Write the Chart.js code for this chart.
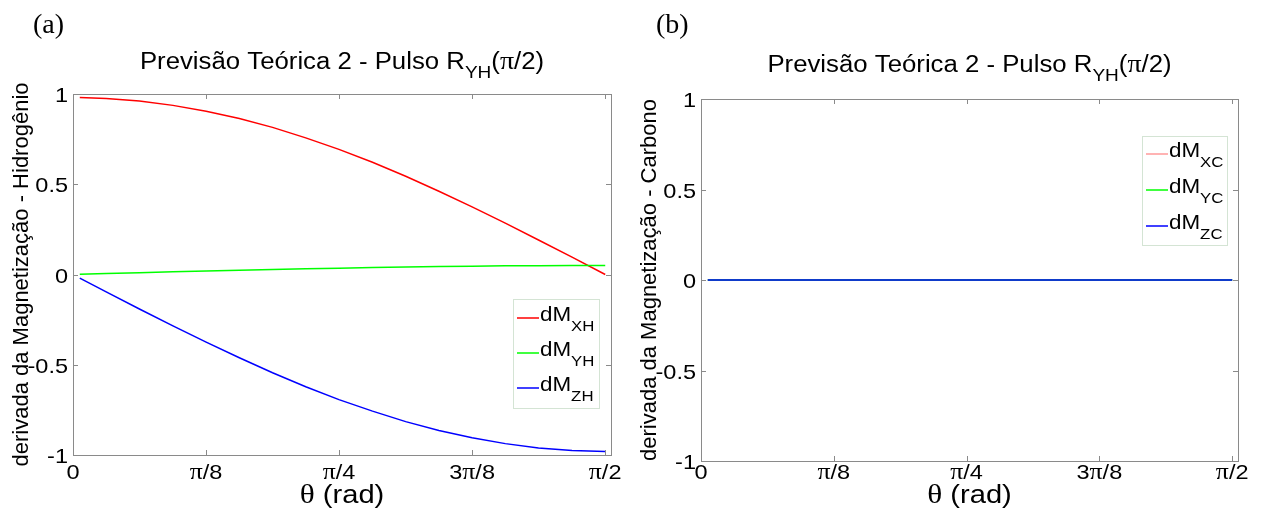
<!DOCTYPE html>
<html>
<head>
<meta charset="utf-8">
<script src="https://cdn.jsdelivr.net/npm/chart.js@4.4.0/dist/chart.umd.min.js"></script>
<style>
  body { margin: 0; background: #fff; width: 1272px; height: 516px; overflow: hidden; position: relative; }
  canvas { position: absolute; top: 0; }
  #chartA { left: 0; }
  #chartB { left: 636px; }
</style>
</head>
<body>
<canvas id="chartA" width="636" height="516"></canvas>
<canvas id="chartB" width="636" height="516"></canvas>
<script>
// theta (rad) sample points
var theta = [0.02, 0.098, 0.196, 0.295, 0.393, 0.491, 0.589, 0.687, 0.785, 0.884, 0.982, 1.080, 1.178, 1.276, 1.374, 1.473, 1.571];

// (a) hidrogenio
var dMxH = [0.98, 0.975, 0.961, 0.937, 0.905, 0.864, 0.815, 0.757, 0.693, 0.622, 0.544, 0.461, 0.375, 0.285, 0.191, 0.096, 0.0];
var dMyH = [0.001, 0.005, 0.010, 0.015, 0.019, 0.024, 0.028, 0.032, 0.035, 0.039, 0.042, 0.044, 0.046, 0.048, 0.049, 0.050, 0.050];
var dMzH = [-0.02, -0.096, -0.191, -0.285, -0.375, -0.461, -0.544, -0.622, -0.693, -0.757, -0.815, -0.864, -0.905, -0.937, -0.961, -0.975, -0.98];

// (b) carbono
var dMxC = [0, 0, 0, 0, 0, 0, 0, 0, 0, 0, 0, 0, 0, 0, 0, 0, 0];
var dMyC = [0, 0, 0, 0, 0, 0, 0, 0, 0, 0, 0, 0, 0, 0, 0, 0, 0];
var dMzC = [0, 0, 0, 0, 0, 0, 0, 0, 0, 0, 0, 0, 0, 0, 0, 0, 0];

var xTickVals = [0, Math.PI / 8, Math.PI / 4, 3 * Math.PI / 8, Math.PI / 2];
var xTickLabels = ['0', 'π/8', 'π/4', '3π/8', 'π/2'];
var yTickVals = [-1, -0.5, 0, 0.5, 1];
var yTickLabels = ['-1', '-0.5', '0', '0.5', '1'];

var SANS = '"Liberation Sans", Arial, sans-serif';
var SERIF = '"Liberation Serif", "Times New Roman", serif';
var STRETCH = 1.12;   // the original figure is a bit wider than tall
var axisColor = '#8a8a8a';

function pts(ys) {
    return theta.map(function(t, i) { return {x: t, y: ys[i]}; });
}

// draw a row of text pieces (for subscripts and the serif pi)
// parts: [text, size, dy, serif]
function richWidth(ctx, parts) {
    var w = 0;
    parts.forEach(function(p) {
        ctx.font = p[1] + 'px ' + (p[3] ? SERIF : SANS);
        w += ctx.measureText(p[0]).width;
    });
    return w * STRETCH;
}

function drawRich(ctx, parts, x, y, align) {
    var w = richWidth(ctx, parts);
    var x0 = x;
    if (align === 'center') x0 = x - w / 2;
    if (align === 'right') x0 = x - w;
    ctx.save();
    ctx.translate(x0, y);
    ctx.scale(STRETCH, 1);
    ctx.textAlign = 'left';
    ctx.textBaseline = 'alphabetic';
    ctx.fillStyle = '#000';
    var cx = 0;
    parts.forEach(function(p) {
        ctx.font = p[1] + 'px ' + (p[3] ? SERIF : SANS);
        ctx.fillText(p[0], cx, p[2]);
        cx += ctx.measureText(p[0]).width;
    });
    ctx.restore();
}

function piParts(label, size) {
    // split label so that pi uses the serif face
    var out = [];
    label.split(/(π)/).forEach(function(s) {
        if (s === '') return;
        out.push(s === 'π' ? [s, size + 2, 0, true] : [s, size, 0]);
    });
    return out;
}

var matlabAxes = {
    id: 'matlabAxes',
    afterDatasetsDraw: function(chart, args, o) {
        var ctx = chart.ctx;
        var a = chart.chartArea;
        var xs = chart.scales.x, ys = chart.scales.y;

        // box and inward ticks
        ctx.save();
        ctx.strokeStyle = axisColor;
        ctx.lineWidth = 1;
        ctx.strokeRect(Math.round(a.left) + 0.5, Math.round(a.top) + 0.5, Math.round(a.right - a.left), Math.round(a.bottom - a.top));
        ctx.beginPath();
        xTickVals.forEach(function(v) {
            var px = Math.round(xs.getPixelForValue(v)) + 0.5;
            ctx.moveTo(px, a.bottom); ctx.lineTo(px, a.bottom - 5);
            ctx.moveTo(px, a.top); ctx.lineTo(px, a.top + 5);
        });
        yTickVals.forEach(function(v) {
            var py = Math.round(ys.getPixelForValue(v)) + 0.5;
            ctx.moveTo(a.left, py); ctx.lineTo(a.left + 5, py);
            ctx.moveTo(a.right, py); ctx.lineTo(a.right - 5, py);
        });
        ctx.stroke();
        ctx.restore();

        // tick labels
        xTickVals.forEach(function(v, i) {
            drawRich(ctx, piParts(xTickLabels[i], 21), xs.getPixelForValue(v), o.xlabBase, 'center');
        });
        yTickVals.forEach(function(v, i) {
            drawRich(ctx, [[yTickLabels[i], 21, 0]], a.left - 5, ys.getPixelForValue(v) + 8, 'right');
        });

        // titles
        var mid = (a.left + a.right) / 2;
        drawRich(ctx, [['Previsão Teórica 2 - Pulso R', 23, 0], ['YH', 17, 9], ['(', 23, 0], ['π', 25, 0, true], ['/2)', 23, 0]], mid, o.titleY, 'center');
        drawRich(ctx, [['θ', 28, 0, true], [' (rad)', 26, 0]], mid, o.xtitleBase, 'center');
        ctx.save();
        ctx.font = '28px ' + SERIF;
        ctx.fillStyle = '#000';
        ctx.fillText(o.tag, o.tagX, 33);
        ctx.restore();

        // rotated y label
        ctx.save();
        ctx.translate(o.ylabelX, (a.top + a.bottom) / 2);
        ctx.rotate(-Math.PI / 2);
        ctx.font = '22px ' + SANS;
        ctx.textAlign = 'center';
        ctx.fillStyle = '#000';
        ctx.fillText(o.ylabel, 0, 0);
        ctx.restore();

        // legend box with subscripts
        var L = o.legend;
        ctx.save();
        ctx.fillStyle = '#fff';
        ctx.fillRect(L.x, L.y, L.w, L.h);
        ctx.strokeStyle = '#d4e4d4';
        ctx.strokeRect(L.x + 0.5, L.y + 0.5, L.w, L.h);
        chart.data.datasets.forEach(function(ds, i) {
            var ly = L.y + L.first + i * L.step;
            ctx.strokeStyle = ds.borderColor;
            ctx.lineWidth = ds.borderWidth;
            ctx.beginPath();
            ctx.moveTo(L.x + 4, ly); ctx.lineTo(L.x + 26, ly);
            ctx.stroke();
            drawRich(ctx, [['dM', 20, 0], [ds.label, 15, 10]], L.x + 27, ly + 3, 'left');
        });
        ctx.restore();
    }
};

function makeChart(id, sets, pad, o) {
    var colors = ['#ff0000', '#00ff00', '#0000ff'];
    var widths = o.widths || [1.5, 1.5, 1.5];
    return new Chart(document.getElementById(id), {
        type: 'line',
        data: {
            datasets: sets.map(function(s, i) {
                return {
                    label: s[0],
                    data: pts(s[1]),
                    borderColor: colors[i],
                    borderWidth: widths[i],
                    order: 2 - i,          // later series drawn on top, as in matlab
                    pointRadius: 0,
                    tension: 0,
                    fill: false
                };
            })
        },
        options: {
            responsive: false,
            animation: false,
            layout: { padding: pad },
            scales: {
                x: { type: 'linear', min: 0, max: 1.588, display: false },
                y: { min: -1, max: 1, display: false }
            },
            plugins: {
                legend: { display: false },
                tooltip: { enabled: false },
                matlabAxes: o
            }
        },
        plugins: [matlabAxes]
    });
}

makeChart('chartA',
    [['XH', dMxH], ['YH', dMyH], ['ZH', dMzH]],
    { left: 73, top: 94, right: 25, bottom: 61 },
    {
        titleY: 69, tag: '(a)', tagX: 33, ylabelX: 28,
        xlabBase: 479, xtitleBase: 503,
        ylabel: 'derivada da Magnetização - Hidrogênio',
        legend: { x: 513, y: 299, w: 86, h: 109, first: 19, step: 35 }
    });

makeChart('chartB',
    [['XC', dMxC], ['YC', dMyC], ['ZC', dMzC]],
    { left: 65, top: 99, right: 34, bottom: 55 },
    {
        titleY: 72, tag: '(b)', tagX: 20, ylabelX: 20,
        xlabBase: 479, xtitleBase: 503,
        ylabel: 'derivada da Magnetização - Carbono',
        widths: [0.6, 1.5, 1.5],
        legend: { x: 506, y: 136, w: 85, h: 109, first: 18, step: 36 }
    });
</script>
</body>
</html>
